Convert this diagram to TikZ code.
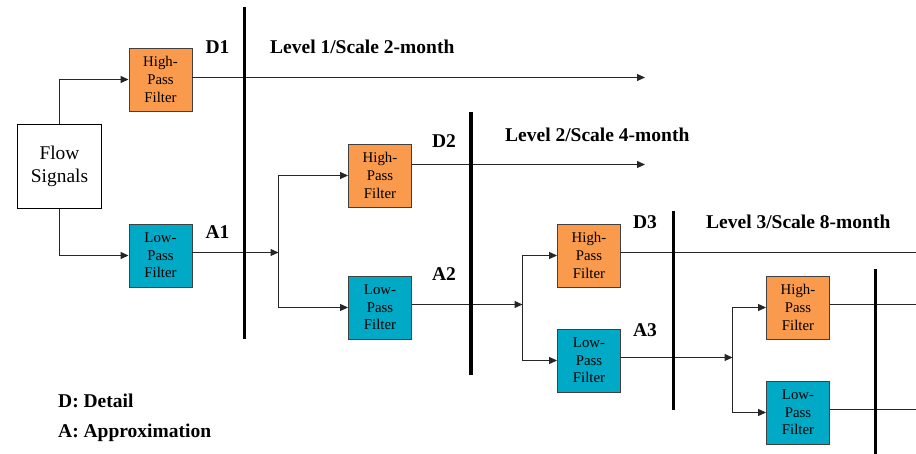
\documentclass[tikz,border=0pt]{standalone}
\usepackage{fontspec}
\setmainfont{Liberation Serif}
\usetikzlibrary{arrows.meta}
\definecolor{hpcol}{HTML}{F99A4C}
\definecolor{lpcol}{HTML}{00A9C5}
\definecolor{edgecol}{HTML}{404040}
\tikzset{
  filt/.style={draw=edgecol, line width=0.9pt, minimum width=63pt, minimum height=63pt, inner sep=0pt, align=center, font=\fontsize{14.8}{17.7}\selectfont},
  hp/.style={filt, fill=hpcol},
  lp/.style={filt, fill=lpcol},
  src/.style={draw=black, line width=0.9pt, minimum width=84pt, minimum height=84pt, inner sep=0pt, align=center, font=\fontsize{19.4}{23.7}\selectfont},
  lab/.style={font=\bfseries\fontsize{19.5}{23}\selectfont, inner sep=0pt},
  conn/.style={draw=black!85, line width=1.1pt},
  arr/.style={conn, -{Triangle[length=8pt,width=7pt]}},
  bar/.style={draw=black, line width=3.6pt},
}
\begin{document}
\begin{tikzpicture}[x=1pt,y=-1pt]
\useasboundingbox (0,0) rectangle (916,454);
\clip (0,0) rectangle (916,454);
% nodes
\node[src] (flow) at (59.5,166.5) {Flow\\Signals};
\node[hp] (hp1) at (160.5,79.5) {High-\\Pass\\Filter};
\node[lp] (lp1) at (160.5,255.5) {Low-\\Pass\\Filter};
\node[hp] (hp2) at (380,175.5) {High-\\Pass\\Filter};
\node[lp] (lp2) at (380,307.5) {Low-\\Pass\\Filter};
\node[hp] (hp3) at (589,255.5) {High-\\Pass\\Filter};
\node[lp] (lp3) at (589,360.5) {Low-\\Pass\\Filter};
\node[hp] (hp4) at (798,307.5) {High-\\Pass\\Filter};
\node[lp] (lp4) at (798,412.5) {Low-\\Pass\\Filter};
% junctions and ends
\coordinate (j1) at (278.5,252.5);
\coordinate (j2) at (522.5,304.5);
\coordinate (j3) at (732.5,357.5);
\coordinate (e1) at (645,77.5);
\coordinate (e2) at (645,164.5);
\coordinate (e3) at (924,252.5);
\coordinate (e4) at (924,304.5);
\coordinate (e5) at (924,409.5);
% bars
\coordinate (b1t) at (244.3,7); \coordinate (b1b) at (244.3,339);
\coordinate (b2t) at (470.7,112); \coordinate (b2b) at (470.7,375);
\coordinate (b3t) at (673.3,211); \coordinate (b3b) at (673.3,410);
\coordinate (b4t) at (875.3,269); \coordinate (b4b) at (875.3,460);
% connectors
\draw[arr] (flow.north) |- (hp1.west);
\draw[arr] (flow.south) |- (lp1.west);
\draw[arr] (hp1.east |- e1) -- (e1);
\draw[arr] (lp1.east |- j1) -- (j1);
\draw[arr] (j1) |- (hp2.west);
\draw[arr] (j1) |- (lp2.west);
\draw[arr] (hp2.east |- e2) -- (e2);
\draw[arr] (lp2.east |- j2) -- (j2);
\draw[arr] (j2) |- (hp3.west);
\draw[arr] (j2) |- (lp3.west);
\draw[arr] (hp3.east |- e3) -- (e3);
\draw[arr] (lp3.east |- j3) -- (j3);
\draw[arr] (j3) |- (hp4.west);
\draw[arr] (j3) |- (lp4.west);
\draw[arr] (hp4.east |- e4) -- (e4);
\draw[arr] (lp4.east |- e5) -- (e5);
% bars
\draw[bar] (b1t) -- (b1b);
\draw[bar] (b2t) -- (b2b);
\draw[bar] (b3t) -- (b3b);
\draw[bar] (b4t) -- (b4b);
% labels
\node[lab, anchor=base] (d1) at (217.5,53.3) {D1};
\node[lab, anchor=base] (a1) at (217.5,239) {A1};
\node[lab, anchor=base] (d2) at (444,148) {D2};
\node[lab, anchor=base] (a2) at (444,280.5) {A2};
\node[lab, anchor=base] (d3) at (645,228.3) {D3};
\node[lab, anchor=base] (a3) at (645,336.5) {A3};
\node[lab, anchor=base west] (l1) at (270,53.3) {Level 1/Scale 2-month};
\node[lab, anchor=base west] (l2) at (505,141.5) {Level 2/Scale 4-month};
\node[lab, anchor=base west] (l3) at (706,228.3) {Level 3/Scale 8-month};
\node[lab, anchor=base west] (legd) at (58,407.5) {D: Detail};
\node[lab, anchor=base west] (lega) at (58,437.5) {A: Approximation};
\end{tikzpicture}
\end{document}
